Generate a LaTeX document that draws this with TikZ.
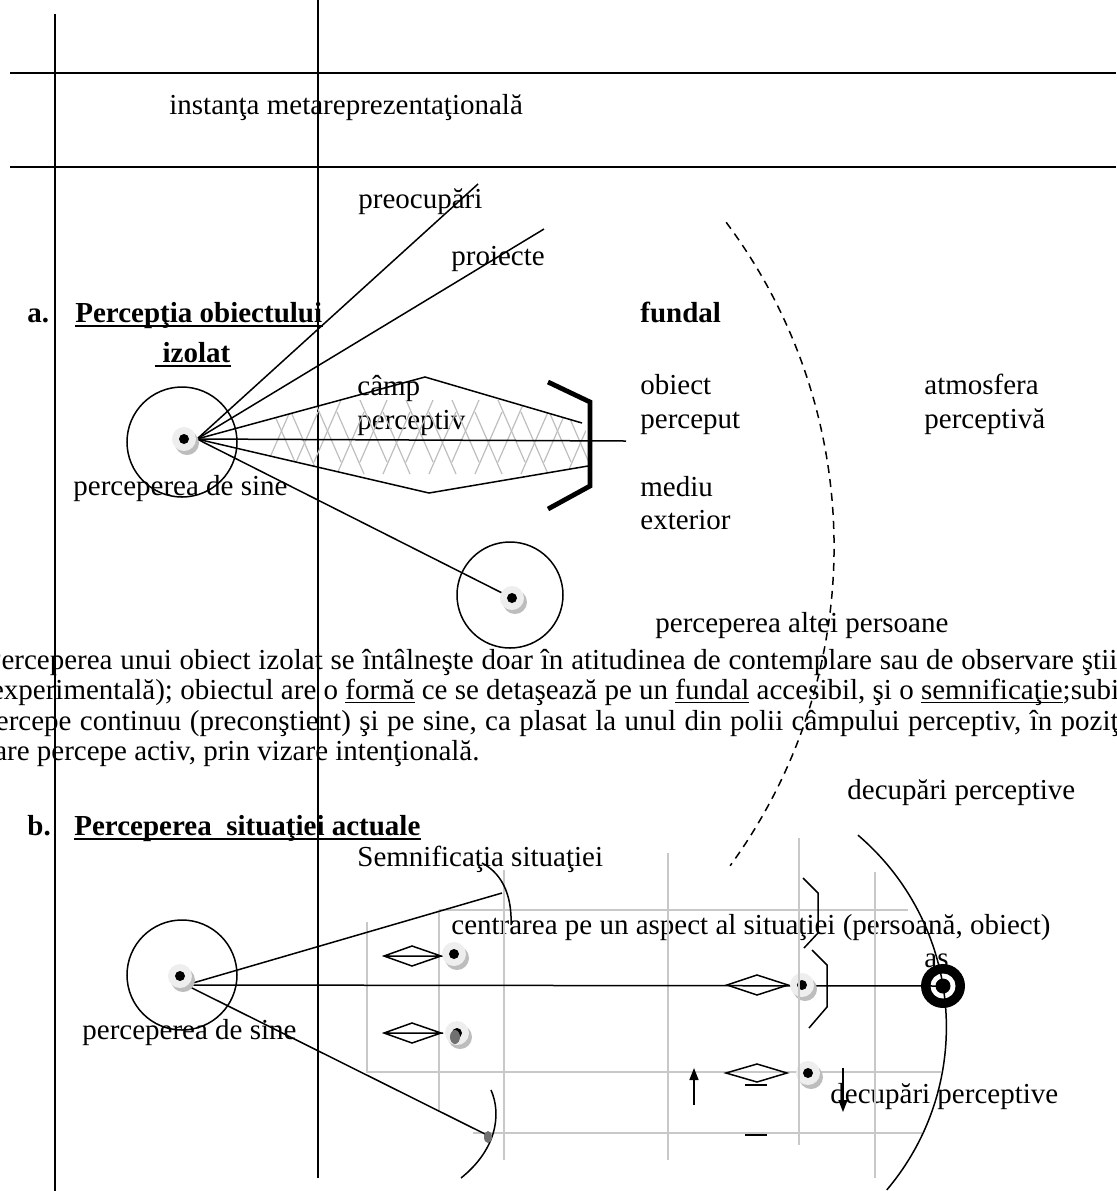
\documentclass[tikz,border=0pt]{standalone}
\usepackage{fontspec}
\setmainfont{Liberation Serif}
\usetikzlibrary{arrows.meta}
\definecolor{eyegray}{HTML}{EEEEEE}
\definecolor{eyeshade}{HTML}{BDBDBD}
\definecolor{gridgray}{HTML}{C8C8C8}
\definecolor{hatchgray}{HTML}{BEBEBE}
\definecolor{blobgray}{HTML}{707070}
\newcommand{\lbl}{\fontsize{14.5}{17}\selectfont}
% eye: shaded disk with a black pupil
\newcommand{\eyedot}[1]{%
  \fill[eyeshade] ([shift={(3,4)}]#1) circle (12);
  \fill[eyegray] (#1) circle (12);
  \fill (#1) circle (5);}

\begin{document}
\begin{tikzpicture}[x=0.5pt,y=-0.5pt,
  every node/.style={inner sep=0pt,anchor=base west,font=\lbl},
  hd/.style={font=\lbl\bfseries},
  rule/.style={line width=1pt},
  ln/.style={line width=0.75pt},
  grid/.style={gridgray,line width=0.8pt},
  hatch/.style={hatchgray,line width=0.6pt},
  brack/.style={line width=2.4pt},
  uline/.style={line width=0.9pt},
  tip/.style={-{Triangle[length=6pt,width=4.5pt]},line width=0.75pt}]
\useasboundingbox (0,0) rectangle (1116,1191);
\clip (0,0) rectangle (1116,1191);

% frame
\draw[rule] (10,73) -- (1116,73);
\draw[rule] (10,167) -- (1116,167);
\draw[ln] (55,14) -- (55,1191);
\draw[ln] (318,0) -- (318,1178);

% texts of part a
\node (meta) at (169,114) {instanţa metareprezentaţională};
\node[hd] (la) at (27,322) {a.};
\node[hd] (ta1) at (75,322) {Percepţia obiectului};
\node[hd] (ta2) at (155,362) {\ izolat};
\draw[uline] ([yshift=-2pt]ta1.base west) -- ([yshift=-2pt]ta1.base east);
\draw[uline] ([yshift=-2pt]ta2.base west) -- ([yshift=-2pt]ta2.base east);
\node (preo) at (358,208) {preocupări};
\node (proi) at (451,265) {proiecte};
\node[hd] (fund) at (640,322) {fundal};
\node (camp) at (357,395) {câmp};
\node (pcv) at (357,429) {perceptiv};
\node (obi) at (640,394) {obiect};
\node (pcp) at (640,428) {perceput};
\node (med) at (640,496) {mediu};
\node (ext) at (640,529) {exterior};
\node (atm) at (924,394) {atmosfera};
\node (atm2) at (924,428) {perceptivă};
\node (sineA) at (73,495) {perceperea de sine};
\node (alta) at (655,632) {perceperea altei persoane};

% paragraph
\node (p1) at (-15,669) {\spaceskip=3.9pt\relax Perceperea unui obiect izolat se întâlneşte doar în atitudinea de contemplare sau de observare ştiinţifică};
\node (p2) at (-19,699) {(experimentală); obiectul are o \underline{formă} ce se detaşează pe un \underline{fundal} accesibil, şi o \underline{semnifica\smash{ţ}ie};subiectul};
\node (p3) at (-19,730) {\spaceskip=4.2pt\relax percepe continuu (preconştient) şi pe sine, ca plasat la unul din polii câmpului perceptiv, în poziţia};
\node (p4) at (-19,760) {care percepe activ, prin vizare intenţională.};
\node (dec1) at (847,799) {decupări perceptive};

% part a
\coordinate (oA) at (197,439);
\coordinate (eA) at (184,439);
\coordinate (ePre) at (478,184);
\coordinate (ePro) at (544,229);
\coordinate (fUp) at (425,377);
\coordinate (fUpE) at (582,423);
\coordinate (fLo) at (429,493);
\coordinate (fLoE) at (588,466);
\coordinate (fMid) at (626,441);
\coordinate (eO) at (512,598);
\coordinate (cD) at (292.5,546.7);

\begin{scope}
 \clip (oA) -- (fUp) -- (fUpE) -- (590,440) -- (fLoE) -- (fLo) -- cycle;
 \foreach \k in {0,...,13} {
  \draw[hatch] (268+23*\k,{400+12*mod(\k,2)}) -- ++(27,62);
  \draw[hatch] (295+23*\k,{400+12*mod(\k,2)}) -- ++(-27,62);
 }
\end{scope}
\draw[ln] (oA) -- (ePre);
\draw[ln] (oA) -- (ePro);
\draw[ln] (oA) -- (fUp) -- (fUpE);
\draw[ln] (oA) -- (fLo) -- (fLoE);
\draw[ln] (oA) -- (fMid);
\draw[ln] (oA) -- (eO);
\draw[brack] (548,382) -- (590,402) -- (590,486) -- (548,509);
\draw[ln] (182,442) circle (55);
\draw[ln] (510,595) circle (53);
\eyedot{eA}
\eyedot{eO}
\draw[ln,dash pattern=on 4pt off 3pt] ([shift={(-36.8:541.6)}]cD) arc[start angle=-36.8,end angle=36.1,radius=541.6];

% part b
\node[hd] (lb) at (27,835) {b.};
\node[hd] (tb) at (74,835) {Perceperea\ \ situaţiei actuale};
\draw[uline] ([yshift=-2pt]tb.base west) -- ([yshift=-2pt]tb.base east);
\node (semn) at (357,866) {Semnificaţia situaţiei};
\node (centr) at (451,934) {centrarea pe un aspect al situaţiei (persoană, obiect)};
\node (as) at (924,967) {as};
\node (sineB) at (82,1039) {perceperea de sine};
\node (dec2) at (830,1103) {decupări perceptive};

\coordinate (oB) at (186,985);
\coordinate (eB) at (180,976);
\coordinate (sUp) at (502,893);
\coordinate (sLo) at (487,1135);
\coordinate (tg) at (943,986);
\coordinate (e1) at (454,954);
\coordinate (e2) at (457,1033);
\coordinate (e3) at (802,985);
\coordinate (e4) at (808,1073);
\coordinate (cR) at (694,1027);

% grey grid
\draw[grid] (367,922) -- (367,1073);
\draw[grid] (439,910) -- (439,1112);
\draw[grid] (504,870) -- (504,1160);
\draw[grid] (668,853) -- (668,1160);
\draw[grid] (799,838) -- (799,1145);
\draw[grid] (875,872) -- (875,1178);
\draw[grid] (439,910) -- (908,910);
\draw[grid] (367,1072) -- (941,1072);
\draw[grid] (473,1133) -- (922,1133);

% target
\fill (tg) circle (22);
\fill[white] (tg) circle (12.5);
\fill (tg) circle (7.5);

\draw[ln] (oB) -- (sUp);
\draw[ln] (oB) -- (tg);
\draw[ln] (oB) -- (sLo);
\draw[ln] (182,975) circle (55);
\draw[ln] (482,863) .. controls (505,875) and (512,900) .. (511,925);
\draw[ln] (491,1090) .. controls (502,1115) and (496,1150) .. (461,1178);
\draw[ln] (803,878) -- (818,893) -- (818,933) -- (804,948);
\draw[ln] (812,950) -- (827,965) -- (827,1007) -- (809,1028);
\draw[ln] ([shift={(-49.5:252.4)}]cR) arc[start angle=-49.5,end angle=40.2,radius=252.4];

% diamonds
\foreach \y in {956,1033}
 \draw[ln] (384,\y) -- (412,\y-10) -- (441,\y) -- (412,\y+10) -- cycle (384,\y) -- (443,\y);
\draw[ln] (727,985) -- (757,975) -- (788,985) -- (757,995) -- cycle;
\draw[ln] (726,1073) -- (757,1064) -- (787,1073) -- (757,1082) -- cycle;
\draw[ln] (745,1085) -- (767,1085);
\draw[ln] (745,1135) -- (767,1135);
\draw[tip] (694,1105) -- (694,1068);
\draw[tip] (843,1068) -- (843,1112);

\eyedot{eB}
\eyedot{e1}
\eyedot{e2}
\eyedot{e3}
\eyedot{e4}
\fill[blobgray] (455,1037) ellipse (5 and 7);
\fill[blobgray] (488,1137) ellipse (4 and 6);
\draw[grid] (799,965) -- (799,1095);
\end{tikzpicture}
\end{document}
